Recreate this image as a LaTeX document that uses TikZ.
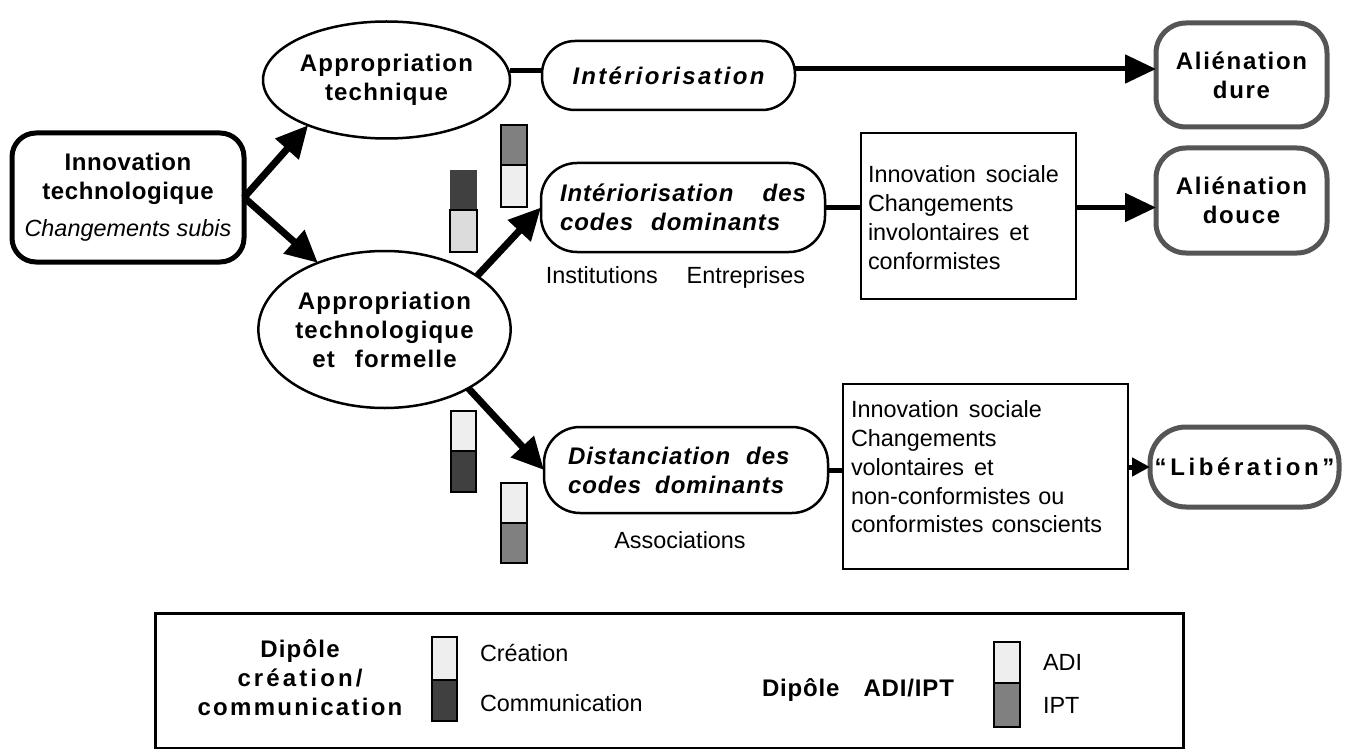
\documentclass[tikz,border=0pt]{standalone}
\usepackage{fontspec}
\setmainfont{Liberation Sans}
\usetikzlibrary{shapes.geometric,arrows.meta}

\definecolor{barlight}{HTML}{EEEEEE}
\definecolor{barpale}{HTML}{DCDCDC}
\definecolor{barmid}{HTML}{808080}
\definecolor{bardark}{HTML}{404040}
\definecolor{rim}{HTML}{555555}

% tracked bold labels and plain body text
\newcommand{\bft}[1]{\fontsize{24}{29}\selectfont\bfseries\addfontfeature{LetterSpace=#1}}
\newcommand{\rgf}{\fontsize{23.4}{29}\selectfont}

\begin{document}
\begin{tikzpicture}[x=1pt,y=-1pt,
  every node/.style={inner sep=0pt,outer sep=0pt},
  oval/.style={ellipse,draw,line width=2.5pt,fill=white,align=center,font=\bft{5}},
  startbox/.style={rectangle,rounded corners=24pt,draw,line width=5pt,fill=white,align=center,font=\bft{2.5}},
  pill/.style={rectangle,rounded corners=36pt,draw,line width=2.5pt,fill=white},
  goal/.style={rectangle,rounded corners=30pt,draw=rim,line width=5pt,fill=white,align=center,font=\bft{7}},
  socbox/.style={rectangle,draw,line width=2.5pt},
  soctext/.style={anchor=north west,align=left,font=\fontsize{23.4}{28.7}\selectfont},
  plain/.style={font=\rgf},
  arr/.style={line width=7pt,-{Triangle[length=32pt,width=30pt]}},
  harr/.style={line width=5pt,-{Triangle[length=31pt,width=28pt]}},
  sarr/.style={line width=5pt,-{Triangle[length=18pt,width=18pt]}},
  conn/.style={line width=5pt},
  bar/.style={draw,line width=2.5pt}
]
\useasboundingbox (0,0) rectangle (1347,749);

% ---- starting point
\node[startbox,minimum width=232pt,minimum height=129pt] (innov) at (128,197.5)
  {Innovation\\technologique\\[8pt]{\normalfont\rgf\itshape Changements subis}};

% ---- two appropriations
\node[oval,minimum width=247pt,minimum height=117pt] (ell1) at (386.5,80)
  {Appropriation\\technique};
\node[oval,minimum width=247pt,minimum height=157pt] (ell2) at (384.5,329.5)
  {Appropriation\\technologique\\et\hspace{20pt}formelle};

% ---- upper branch
\node[pill,rounded corners=33pt,minimum width=253pt,minimum height=69pt,
      font=\bft{9.5}\itshape] (inter) at (668.5,75.5) {Intériorisation};
\node[goal,minimum width=171pt,minimum height=104pt] (alid) at (1241.5,75)
  {Aliénation\\dure};

% ---- middle branch
\node[pill,minimum width=284pt,minimum height=89pt,align=left,text width=246pt,
      font=\bft{4}\itshape] (codes1) at (683,207.5)
  {Intériorisation\hfill des\\codes\hspace{18pt}dominants};
\node[plain] (inst) at (675.5,277) {Institutions\hspace{29pt}Entreprises};
\node[socbox,minimum width=215pt,minimum height=166pt] (soc1) at (968.5,216) {};
\node[soctext] (soc1txt) at (868,166)
  {Innovation\hspace{10pt}sociale\\Changements\\involontaires\hspace{10pt}et\\conformistes};
\node[goal,minimum width=171pt,minimum height=105pt] (alis) at (1241.5,200.5)
  {Aliénation\\douce};

% ---- lower branch
\node[pill,minimum width=284pt,minimum height=86pt,align=left,text width=236pt,
      font=\bft{4}\itshape] (distc) at (686,470)
  {Distanciation\hspace{16pt}des\\codes\hspace{14pt}dominants};
\node[plain] (assoc) at (680,540) {Associations};
\node[socbox,minimum width=285pt,minimum height=185pt] (soc2) at (985.5,476.5) {};
\node[soctext] (soc2txt) at (851,401)
  {Innovation\hspace{10pt}sociale\\Changements\\volontaires\hspace{10pt}et\\non-conformistes\hspace{8pt}ou\\conformistes\hspace{8pt}conscients};
\node[goal,rounded corners=36pt,minimum width=189pt,minimum height=80pt,font=\bft{15}] (lib) at (1244.5,467)
  {“Libération”};

% ---- connectors
\draw[arr] (innov.east) -- (ell1.210);
\draw[arr] (innov.east) -- (ell2.135);
\draw[arr] (ell2.30) -- (codes1.west);
\draw[arr] (ell2.-35) -- (distc.west);

\coordinate (j1) at ([yshift=4.5pt]inter.west);
\draw[conn] (j1 -| ell1.east) -- (j1);
\coordinate (j2) at ([yshift=6pt]alid.west);
\draw[harr] (j2 -| inter.east) -- (j2);

\draw[conn] (codes1.east) -- (codes1.east -| soc1.west);
\draw[harr] (codes1.east -| soc1.east) -- (codes1.east -| alis.west);

\draw[conn] (distc.east) -- (distc.east -| soc2.west);
\draw[sarr] (lib.west -| soc2.east) -- (lib.west);

% ---- dipole bars beside the branches
\draw[bar,fill=barmid]   (501,125) rectangle (527,165);
\draw[bar,fill=barlight] (501,165) rectangle (527,207);
\fill[bardark]           (450,170) rectangle (477,210);
\draw[bar,fill=barpale]  (450,210) rectangle (477,252);
\draw[bar,fill=barlight] (451,411) rectangle (476,451);
\draw[bar,fill=bardark]  (451,451) rectangle (476,492);
\draw[bar,fill=barlight] (501,483) rectangle (527,523);
\draw[bar,fill=barmid]   (501,523) rectangle (527,563);

% ---- legend
\node[rectangle,draw,line width=3pt,minimum width=1028pt,minimum height=135pt] (legend) at (669,680.5) {};
\node[align=center,font=\bft{5}] (dip1) at (300,678)
  {Dipôle\\{\addfontfeature{LetterSpace=13}création/}\\{\addfontfeature{LetterSpace=9.5}communication}};
\draw[bar,fill=barlight] (432,637) rectangle (457,680);
\draw[bar,fill=bardark]  (432,680) rectangle (457,721);
\node[plain,anchor=west] (lcre) at (480,653) {Création};
\node[plain,anchor=west] (lcom) at (480,703) {Communication};
\node[anchor=west,font=\bft{3.5}] (dip2) at (762,690) {Dipôle\hspace{24pt}ADI/IPT};
\draw[bar,fill=barlight] (994,642) rectangle (1020,683);
\draw[bar,fill=barmid]   (994,683) rectangle (1020,727);
\node[plain,anchor=west] (ladi) at (1043,662) {ADI};
\node[plain,anchor=west] (lipt) at (1043,705) {IPT};
\end{tikzpicture}
\end{document}
